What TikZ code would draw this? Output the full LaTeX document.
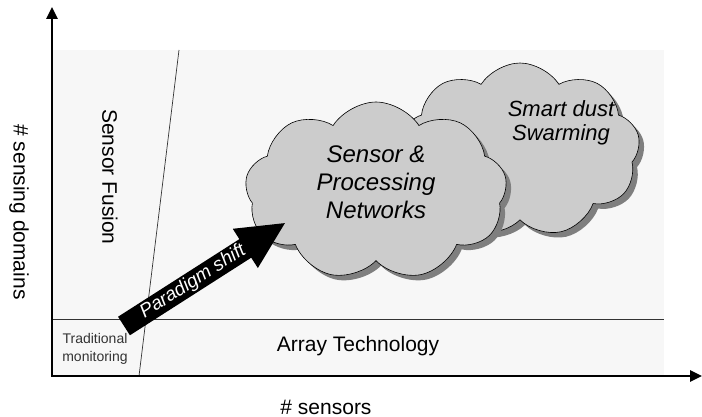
\documentclass[tikz,border=0pt]{standalone}
\usepackage{fontspec}
\setmainfont{Liberation Sans}
\usetikzlibrary{shapes.symbols,shadows,arrows.meta}
\definecolor{panel}{HTML}{F7F7F7}
\definecolor{cloudfill}{HTML}{CCCCCC}
\definecolor{cloudshade}{HTML}{7F7F7F}
\definecolor{rulegray}{HTML}{333333}
\begin{document}
\begin{tikzpicture}[x=1pt,y=-1pt,
  lbl/.style={inner sep=0pt, font=\fontsize{21}{25}\selectfont},
  cloudtxt/.style={inner sep=0pt, align=center, font=\itshape\fontsize{#1}{#1}\selectfont},
  cloudbox/.style={cloud, cloud puffs=9, cloud puff arc=115, draw=black,
    line width=0.6pt, fill=cloudfill, inner sep=0pt,
    drop shadow={shadow xshift=5pt, shadow yshift=-5pt, fill=cloudshade, opacity=1}},
  divider/.style={draw=rulegray, line width=0.7pt},
  axis/.style={line width=2.6pt, {Triangle[length=12pt,width=11pt]}-{Triangle[length=12pt,width=11pt]}}]
\useasboundingbox (0,0) rectangle (702,417);

% shaded plot area
\fill[panel] (52,50) rectangle (664,376);

% region boundaries
\coordinate (hl) at (52,319);
\coordinate (hr) at (664,319);
\coordinate (dtop) at (179,50);
\coordinate (dbot) at (139,376);
\draw[divider] (hl) -- (hr);
\draw[divider] (dtop) -- (dbot);

% region and axis labels
\node[lbl, rotate=-90] (ylab) at (19,212) {\# sensing domains};
\node[lbl, rotate=-90] (fusion) at (110,177) {Sensor Fusion};
\node[lbl] (array) at (358,346) {Array Technology};
\node[lbl] (xlab) at (326,407) {\# sensors};
\node[inner sep=0pt, align=center, text=rulegray,
  font=\fontsize{14}{18}\selectfont] (trad) at (95,349) {Traditional\\monitoring};

% clouds
\node[cloudbox, minimum width=240pt, minimum height=174pt, shape border rotate=10] (dust) at (520,150) {};
\node[cloudbox, minimum width=262pt, minimum height=178pt] (net) at (376,191) {};
\node[cloudtxt=22] (dusttxt) at (561,123) {Smart dust\\[2pt]Swarming};
\node[cloudtxt=24] (nettxt) at (376,182) {Sensor \&\\[4pt]Processing\\[4pt]Networks};

% paradigm shift arrow
\begin{scope}[shift={(124,326)}, rotate=32.6]
  \fill[black] (0,-11) -- (144,-11) -- (144,-23.3) -- (191,0) -- (144,23.3)
    -- (144,11) -- (0,11) -- cycle;
  \node[rotate=32.6, inner sep=0pt, text=white,
    font=\itshape\fontsize{19}{19}\selectfont] (shift) at (82,0) {Paradigm shift};
\end{scope}

% axes
\coordinate (ytip) at (52,7);
\coordinate (origin) at (52,376);
\coordinate (xtip) at (702,376);
\draw[axis] (ytip) -- (origin) -- (xtip);
\end{tikzpicture}
\end{document}
